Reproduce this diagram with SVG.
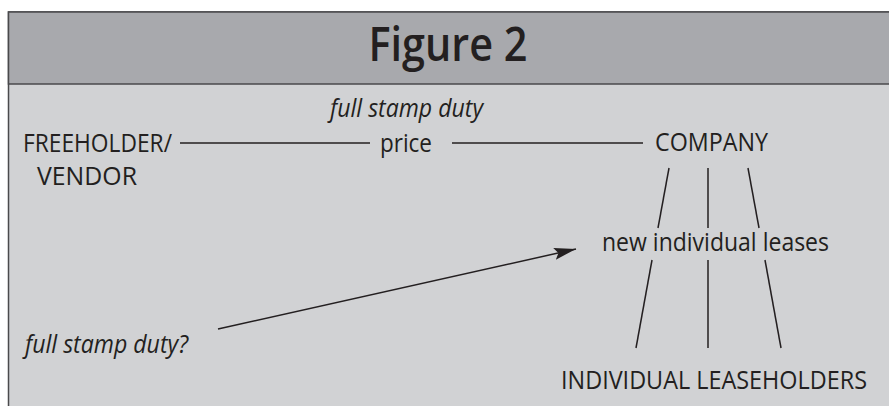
<svg xmlns="http://www.w3.org/2000/svg" width="889" height="406" viewBox="0 0 889 406">
  <style>
    .t { font-family: "Open Sans", "Noto Sans", "Liberation Sans", sans-serif; fill: #231f20; font-size: 25px; font-weight: 500; }
    .i { font-style: italic; font-weight: 400; }
    .h { font-size: 47px; font-weight: 600; }
    .ln { stroke: #231f20; stroke-width: 1.5; fill: none; }
  </style>
  <defs>
    <marker id="ah" markerUnits="userSpaceOnUse" markerWidth="24" markerHeight="14" refX="22" refY="7" orient="auto">
      <path d="M0,1 L22,7 L0,13 L4,7 Z" fill="#231f20"/>
    </marker>
  </defs>
  <rect x="0" y="0" width="889" height="406" fill="#ffffff"/>
  <rect x="8.5" y="12" width="888" height="420" fill="#d1d2d4" stroke="#4a4a4c" stroke-width="1.5"/>
  <rect x="8.5" y="12" width="888" height="72" fill="#a8a9ad" stroke="#4a4a4c" stroke-width="1.5"/>
  <g id="title">
    <text class="t h" x="448" y="61" text-anchor="middle" textLength="159" lengthAdjust="spacingAndGlyphs">Figure 2</text>
  </g>
  <g id="freeholder">
    <text class="t" x="23" y="152" textLength="149" lengthAdjust="spacingAndGlyphs">FREEHOLDER/</text>
    <text class="t" x="37" y="185" textLength="100" lengthAdjust="spacingAndGlyphs">VENDOR</text>
  </g>
  <g id="price">
    <text class="t i" x="330" y="117" textLength="153" lengthAdjust="spacingAndGlyphs">full stamp duty</text>
    <text class="t" x="380" y="152" textLength="52" lengthAdjust="spacingAndGlyphs">price</text>
  </g>
  <g id="company">
    <text class="t" x="655" y="151" textLength="113" lengthAdjust="spacingAndGlyphs">COMPANY</text>
  </g>
  <g id="leases">
    <text class="t" x="602" y="251" textLength="227" lengthAdjust="spacingAndGlyphs">new individual leases</text>
  </g>
  <g id="leaseholders">
    <text class="t" x="561" y="389" textLength="306" lengthAdjust="spacingAndGlyphs">INDIVIDUAL LEASEHOLDERS</text>
  </g>
  <g id="stampduty">
    <text class="t i" x="25" y="353" textLength="163" lengthAdjust="spacingAndGlyphs">full stamp duty?</text>
  </g>
  <g id="connectors">
    <line class="ln" x1="180" y1="143" x2="370" y2="143"/>
    <line class="ln" x1="452" y1="143" x2="643" y2="143"/>
    <line class="ln" x1="669" y1="168" x2="658" y2="228"/>
    <line class="ln" x1="708" y1="168" x2="708" y2="228"/>
    <line class="ln" x1="748" y1="168" x2="759" y2="228"/>
    <line class="ln" x1="652" y1="260" x2="636" y2="348"/>
    <line class="ln" x1="708" y1="260" x2="708" y2="348"/>
    <line class="ln" x1="765" y1="260" x2="781" y2="348"/>
    <line class="ln" x1="218" y1="329" x2="576" y2="249" marker-end="url(#ah)"/>
  </g>
</svg>
